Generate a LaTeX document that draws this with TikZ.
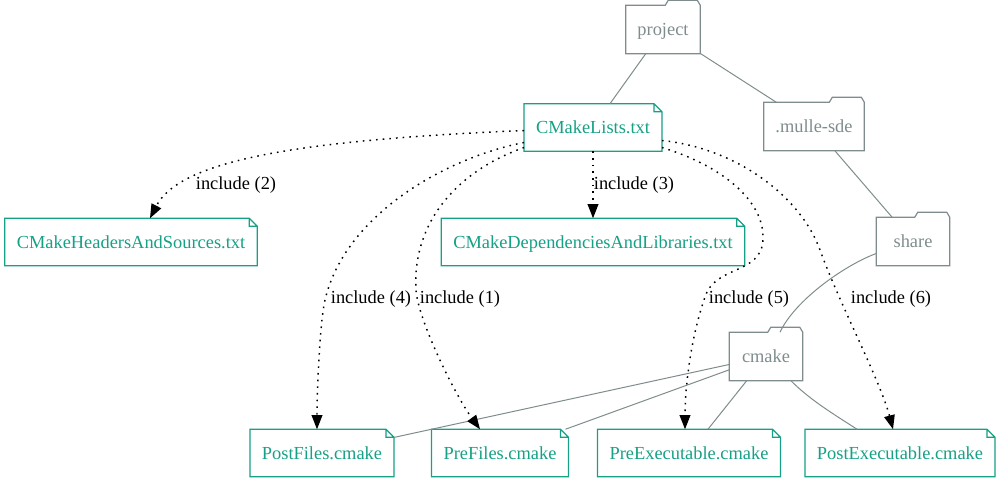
\documentclass[tikz,border=0pt]{standalone}
\usepackage{fontspec}
\setmainfont{Liberation Serif}
\usetikzlibrary{arrows.meta,calc}
\definecolor{mteal}{RGB}{22,160,133}
\definecolor{mgray}{RGB}{127,140,141}
\begin{document}
\begin{tikzpicture}[x=0.75pt,y=-0.75pt,
  every node/.style={font=\fontsize{13.8}{16}\selectfont},
  note/.style={text=mteal, inner xsep=8.8pt, inner ysep=0pt, minimum height=35.25pt, text height=12.4pt, text depth=3pt},
  folder/.style={text=mgray, inner xsep=8.6pt, inner ysep=0pt, minimum height=36pt, minimum width=54.75pt, text height=12.4pt, text depth=3pt},
  noteline/.style={draw=mteal, line width=0.9pt, line join=miter},
  folderline/.style={draw=mgray, line width=0.9pt, line join=miter},
  tree/.style={draw=mgray, line width=0.75pt},
  incl/.style={draw=black, line width=1.1pt, dash pattern=on 1.2pt off 3.8pt, -{Triangle[length=10.5pt,width=8pt]}},
  lbl/.style={text=black, inner sep=0pt}]
\useasboundingbox (0,0) rectangle (1000,483);

% folders
\node[folder] (project) at (663,29.5) {project};
\node[folder] (mulle) at (814,126.5) {.mulle-sde};
\node[folder] (share) at (913,241.5) {share};
\node[folder] (cmake) at (766,356.5) {cmake};

% notes
\node[note] (cml) at (593,127.5) {CMakeLists.txt};
\node[note] (chs) at (131,242) {CMakeHeadersAndSources.txt};
\node[note] (cdl) at (593,242) {CMakeDependenciesAndLibraries.txt};
\node[note] (postf) at (322,453) {PostFiles.cmake};
\node[note] (pref) at (500,453) {PreFiles.cmake};
\node[note] (preexe) at (689,453) {PreExecutable.cmake};
\node[note] (postexe) at (900,453) {PostExecutable.cmake};

% outlines
\foreach \n in {project,mulle,share,cmake}
  \draw[folderline] (\n.south west) -- (\n.north west) -- ($(\n.north east)+(-35,0)$)
    -- ($(\n.north east)+(-32,-5)$) -- ($(\n.north east)+(-3,-5)$) -- (\n.north east)
    -- (\n.south east) -- cycle;
\foreach \n in {cml,chs,cdl,postf,pref,preexe,postexe}
  \draw[noteline] (\n.south west) -- (\n.north west) -- ($(\n.north east)+(-8,0)$)
    -- ($(\n.north east)+(0,8)$) -- (\n.south east) -- cycle
    ($(\n.north east)+(-8,0)$) -- ($(\n.north east)+(-8,8)$) -- ($(\n.north east)+(0,8)$);

% tree edges
\draw[tree] (project) -- (cml);
\draw[tree] (project) -- (mulle);
\draw[tree] (mulle) -- (share);
\draw[tree] ($(share.west)+(0,12)$) .. controls (845,265) and (795,300) .. ($(cmake.north)+(14,0)$);
\draw[tree] (cmake) -- (postf);
\draw[tree] (cmake) -- (pref);
\draw[tree] (cmake) -- (preexe);
\draw[tree] ($(cmake.south)+(25,0)$) .. controls (810,400) and (835,415) .. ($(postexe.north)+(-43,0)$);

% include edges
\draw[incl] ($(cml.west)+(0,3)$) .. controls (300,140) and (180,160) .. ($(chs.north)+(19,0)$);
\draw[incl] (cml) -- (cdl);
\draw[incl] ($(cml.west)+(0,15)$) .. controls (445,158) and (345,215) .. (325,300)
   .. controls (320,321) and (317,390) .. ($(postf.north)+(-5,0)$);
\draw[incl] ($(cml.west)+(0,20)$) .. controls (460,170) and (412,220) .. (416,290)
   .. controls (418,320) and (455,395) .. ($(pref.north)+(-20,0)$);
\draw[incl] ($(cml.east)+(0,20)$) .. controls (720,165) and (765,200) .. (763,240)
   .. controls (761,275) and (715,265) .. (705,297)
   .. controls (690,340) and (685,390) .. ($(preexe.north)+(-4,0)$);
\draw[incl] ($(cml.east)+(0,13)$) .. controls (735,148) and (800,195) .. (820,250)
   .. controls (840,305) and (880,380) .. ($(postexe.north)+(-7,0)$);

% labels
\node[lbl] (l2) at (236,185.5) {include (2)};
\node[lbl] (l3) at (634,185.5) {include (3)};
\node[lbl] (l4) at (371,299.5) {include (4)};
\node[lbl] (l1) at (460,299.5) {include (1)};
\node[lbl] (l5) at (749,299.5) {include (5)};
\node[lbl] (l6) at (891,299.5) {include (6)};
\end{tikzpicture}
\end{document}
